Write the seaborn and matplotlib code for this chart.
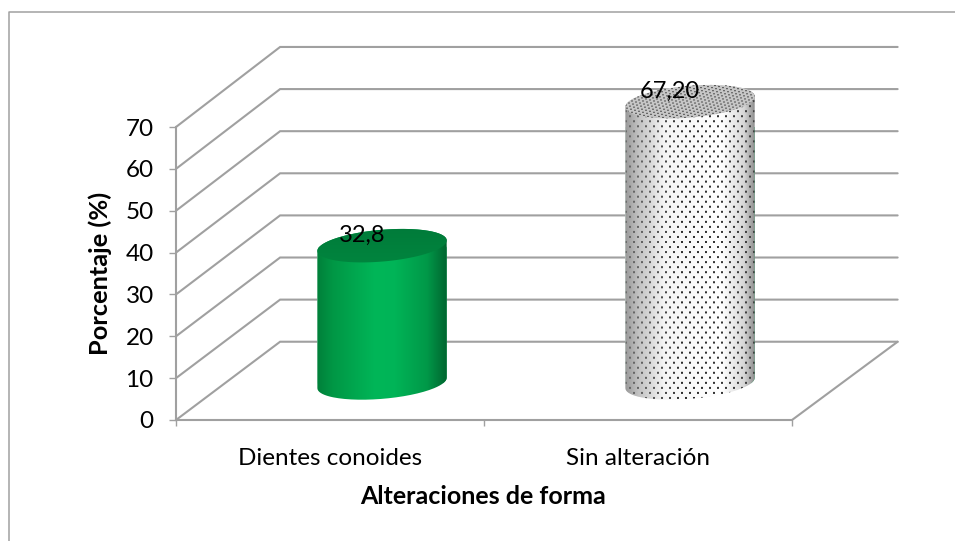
import numpy as np
import pandas as pd
import matplotlib
matplotlib.use("Agg")
import matplotlib.pyplot as plt
from matplotlib.lines import Line2D
from matplotlib.patches import PathPatch, Polygon
from matplotlib.path import Path
import seaborn as sns

categories = ["Dientes conoides", "Sin alteración"]
percentages = [32.8, 67.20]
value_labels = ["32,8", "67,20"]
y_ticks = [0, 10, 20, 30, 40, 50, 60, 70]

GRAY = "#A0A0A0"
W, H = 955, 541
FONT = "Lato"

sns.set_theme(style="white")
plt.rcParams["font.family"] = [FONT, "DejaVu Sans"]

fig = plt.figure(figsize=(W / 100, H / 100), dpi=100, facecolor="white")
ax = fig.add_axes([176 / W, 1 - 420 / H, (792 - 176) / W, (420 - 127) / H])
ax.patch.set_alpha(0)

df = pd.DataFrame({"forma": categories, "porcentaje": percentages})
sns.barplot(data=df, x="forma", y="porcentaje", width=0.42, color="#00A550",
            saturation=1, ax=ax, zorder=3)

XMIN, XMAX, YMAX = -0.5, 1.5, 70
ax.set_xlim(XMIN, XMAX)
ax.set_ylim(0, YMAX)

# Oblique projection of the floor: depth 1 is the back wall
DEPTH_X = 0.338
DEPTH_Y = 18.7
RIM_RY = 3.8    # half height of the elliptical rims, data units
RIM_RISE = 1.25  # how far a rim climbs from its centre to its right edge


def back_y(v):
    return v * 1.006 + DEPTH_Y


def wall_line(xs, ys):
    ax.add_line(Line2D(xs, ys, color=GRAY, lw=1.5, clip_on=False, zorder=1,
                       solid_joinstyle="miter"))


for v in y_ticks:
    wall_line([XMIN, XMIN + DEPTH_X, XMAX + DEPTH_X + 0.005], [v, back_y(v), back_y(v)])
wall_line([XMAX, XMAX + DEPTH_X + 0.005], [0, back_y(0)])


def rim(cx, cy, width, t):
    return np.column_stack([cx + width / 2 * np.cos(t),
                            cy + RIM_RY * np.sin(t) + RIM_RISE * np.cos(t)])


def body_path(cx, top, base, width):
    low = rim(cx, base, width, np.linspace(np.pi, 2 * np.pi, 80))
    high = rim(cx, top, width, np.linspace(0, np.pi, 80))
    return Path(np.vstack([low, high, low[:1]]))


def green_side(w, h):
    frac = np.linspace(0, 1, w)
    stops = [0, 0.12, 0.45, 0.6, 0.85, 1]
    r = np.zeros_like(frac)
    g = np.interp(frac, stops, [0x80, 0x97, 0xB6, 0xB4, 0x98, 0x66])
    b = np.interp(frac, stops, [0x3A, 0x45, 0x58, 0x57, 0x48, 0x30])
    img = np.stack([r, g, b], axis=-1) / 255
    return np.repeat(img[None, :, :], h, axis=0)


def stipple_side(w, h):
    frac = np.linspace(0, 1, w)
    shade = np.interp(frac, [0, 0.1, 0.3, 0.75, 0.92, 1],
                      [0.6, 0.76, 0.96, 1.0, 0.84, 0.56])
    img = np.repeat(shade[None, :], h, axis=0)
    dot = np.interp(frac, [0, 0.2, 0.45, 1], [0.42, 0.36, 0.16, 0.26])
    for row in range(0, h, 5):
        shift = 4 if (row // 5) % 2 else 0
        for col in range(shift, w, 8):
            img[row:row + 2, col:col + 2] = dot[min(col, w - 1)]
    return np.repeat(img[:, :, None], 3, axis=2)


def stipple_cap(w, h):
    yy, xx = np.mgrid[0:h, 0:w]
    img = np.full((h, w), 0.78)
    img[(xx - 4 * yy) % 11 < 2] = 0.32
    return np.repeat(img[:, :, None], 3, axis=2)


def green_cap(w, h):
    frac = np.linspace(0, 1, h)[:, None]
    base = np.array([0x00, 0x80, 0x3C]) / 255
    return np.repeat(base[None, None, :], h, axis=0).repeat(w, axis=1) * (0.96 + 0.08 * frac[:, :, None])


def clip_to_shape(image, shape):
    # Images are cropped to their clip box, so widen it past the axes
    image.set_clip_path(shape)
    image.set_clip_box(fig.bbox)


side_textures = [green_side, stipple_side]
cap_textures = [green_cap, stipple_cap]

for i, bar in enumerate(ax.patches):
    width = bar.get_width()
    cx = bar.get_x() + width / 2 + DEPTH_X / 2
    base = 8.85
    top = base + bar.get_height()

    body = PathPatch(body_path(cx, top, base, width), transform=ax.transData)
    cap = Polygon(rim(cx, top, width, np.linspace(0, 2 * np.pi, 160)), closed=True,
                  transform=ax.transData)

    # The bar sits at mid depth, and its rounded faces go over it
    bar.set_xy((bar.get_x() + DEPTH_X / 2, base))
    bar.set_clip_path(body)

    x0, x1 = cx - width / 2, cx + width / 2
    side = ax.imshow(side_textures[i](130, int((top - base + 10) * 4.18)),
                     extent=(x0, x1, base - 5, top + 5), aspect="auto",
                     interpolation="bilinear", zorder=4)
    clip_to_shape(side, body)
    lid = ax.imshow(cap_textures[i](130, 38),
                    extent=(x0, x1, top - 4.6, top + 4.6), aspect="auto",
                    interpolation="bilinear", zorder=5)
    clip_to_shape(lid, cap)

    ax.annotate(value_labels[i], xy=(cx, top), xytext=(-14.5, 7.5),
                textcoords="offset points", ha="center", va="center",
                fontsize=17, color="black", zorder=6, annotation_clip=False)

ax.set_xlim(XMIN, XMAX)
ax.set_ylim(0, YMAX)

for spine in ("top", "right"):
    ax.spines[spine].set_visible(False)
for spine in ("left", "bottom"):
    ax.spines[spine].set_color(GRAY)
    ax.spines[spine].set_linewidth(1.5)

ax.set_yticks(y_ticks)
ax.set_xticks([0, 1], categories)
ax.set_xticks([-0.5, 0.5, 1.5], minor=True)
ax.tick_params(axis="y", which="major", left=True, length=5, width=1, color=GRAY,
               labelsize=17.5, pad=11, labelcolor="black")
ax.tick_params(axis="x", which="major", bottom=False, labelsize=17.5, pad=14,
               labelcolor="black")
ax.tick_params(axis="x", which="minor", bottom=True, length=4.5, width=1, color=GRAY)

ax.set_xlabel("Alteraciones de forma", fontsize=18, fontweight="bold", color="black")
ax.set_ylabel("Porcentaje (%)", fontsize=18.3, fontweight="bold", color="black")
ax.xaxis.set_label_coords((483 - 176) / (792 - 176), -(497 - 420) / (420 - 127))
ax.xaxis.label.set_verticalalignment("center")
ax.yaxis.set_label_coords((100 - 176) / (792 - 176), (420 - 273) / (420 - 127))
ax.yaxis.label.set_verticalalignment("center")

# Chart area outline, open towards the right and bottom edges of the figure
fig.add_artist(Line2D([9.3 / W, 9.3 / W, 1], [0, 1 - 12 / H, 1 - 12 / H],
                      color=GRAY, lw=1.1, transform=fig.transFigure))

fig.savefig("out.png", dpi=100, facecolor="white")
